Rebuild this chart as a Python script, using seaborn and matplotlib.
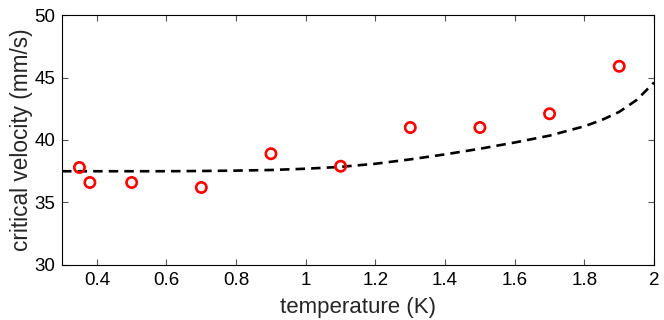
import numpy as np
import pandas as pd
import matplotlib
matplotlib.use('Agg')
import matplotlib.pyplot as plt
import seaborn as sns

# measured critical velocities
temp_meas = [0.35, 0.38, 0.5, 0.7, 0.9, 1.1, 1.3, 1.5, 1.7, 1.9]
vel_meas = [37.8, 36.6, 36.6, 36.2, 38.9, 37.9, 41.0, 41.0, 42.1, 45.9]

# model curve
temp_model = [0.3, 0.4, 0.5, 0.6, 0.7, 0.8, 0.9, 1.0, 1.1, 1.2, 1.3, 1.4,
              1.5, 1.6, 1.7, 1.8, 1.85, 1.9, 1.95, 2.0]
vel_model = [37.5, 37.5, 37.5, 37.5, 37.52, 37.55, 37.6, 37.7, 37.85, 38.1,
             38.45, 38.85, 39.3, 39.8, 40.35, 41.1, 41.6, 42.25, 43.2, 44.6]

xticks = [0.4, 0.6, 0.8, 1, 1.2, 1.4, 1.6, 1.8, 2]
xticklabels = ['0.4', '0.6', '0.8', '1', '1.2', '1.4', '1.6', '1.8', '2']
yticks = [30, 35, 40, 45, 50]

meas = pd.DataFrame({'T': temp_meas, 'v': vel_meas})
model = pd.DataFrame({'T': temp_model, 'v': vel_model})

sns.set_style('ticks')
plt.rcParams['font.family'] = ['Liberation Sans', 'DejaVu Sans']
plt.rcParams['xtick.direction'] = 'in'
plt.rcParams['ytick.direction'] = 'in'

fig = plt.figure(figsize=(6.64, 3.2), dpi=100)
ax = fig.add_axes([0.0934, 0.172, 0.8916, 0.781])

sns.lineplot(data=model, x='T', y='v', ax=ax, color='black', lw=1.9,
             dashes=False, linestyle=(0, (3.6, 2.3)), zorder=2)
sns.scatterplot(data=meas, x='T', y='v', ax=ax, marker='o', s=55,
                facecolor='none', edgecolor='red', linewidth=1.9, zorder=3)

ax.set_xlim(0.3, 2)
ax.set_ylim(30, 50)
ax.set_xticks(xticks)
ax.set_xticklabels(xticklabels)
ax.set_yticks(yticks)
ax.tick_params(axis='both', labelsize=13.5, colors='#555555', labelcolor='black',
               length=4, width=0.8, top=True, right=True, pad=5)
for s in ax.spines.values():
    s.set_color('black')
    s.set_linewidth(0.8)
ax.set_xlabel('temperature (K)', fontsize=16, labelpad=6)
ax.set_ylabel('critical velocity (mm/s)', fontsize=16.3, labelpad=1)

fig.savefig('out.png', dpi=100)
